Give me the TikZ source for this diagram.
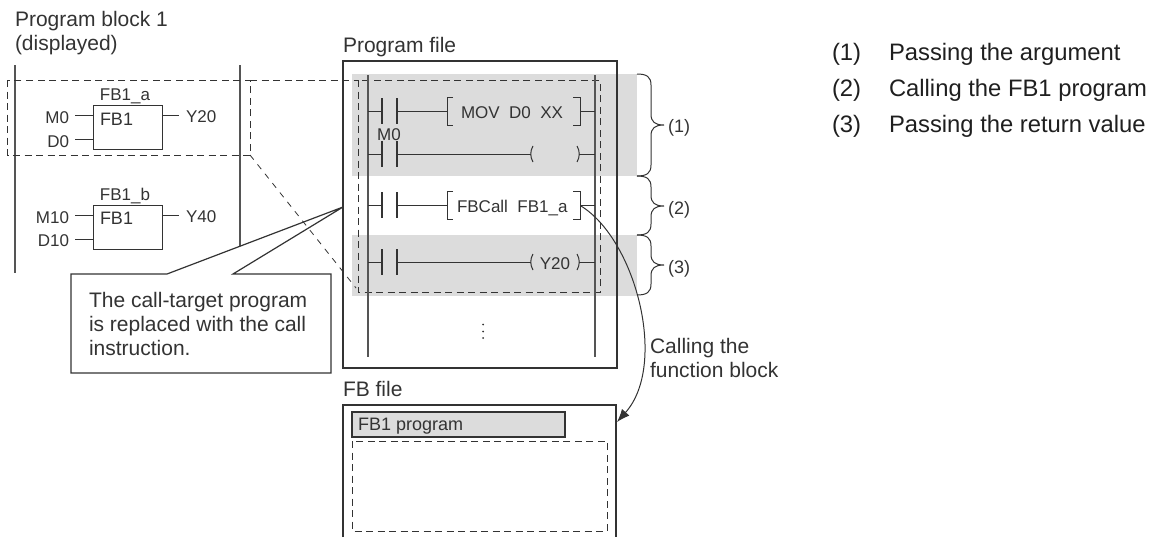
\documentclass[tikz,border=0pt]{standalone}
\usepackage{fontspec}
\setmainfont{Liberation Sans}
\usetikzlibrary{arrows.meta}
\definecolor{ink}{HTML}{333333}
\definecolor{rail}{HTML}{555555}
\definecolor{band}{HTML}{DCDCDC}
\tikzset{
  txt/.style={inner sep=0pt,outer sep=0pt,font=\fontsize{17}{20}\selectfont,text=ink,anchor=base west},
  mid/.style={font=\fontsize{18}{20}\selectfont},
  big/.style={font=\fontsize{21}{24}\selectfont},
  legend/.style={font=\fontsize{23.8}{26}\selectfont,text=black!88},
  txtc/.style={txt,anchor=base},
  txte/.style={txt,anchor=base east},
  wire/.style={draw=ink,line width=1pt},
  railline/.style={draw=rail,line width=1.3pt},
  dashbox/.style={draw=ink,line width=1pt,dash pattern=on 7pt off 4.5pt},
  thin dash/.style={draw=ink,line width=.8pt,dash pattern=on 6pt off 6pt},
  plate/.style={draw=ink,line width=1.2pt},
}
\newcommand{\contact}[2]{%
  \draw[plate] (382,#2-13) -- (382,#2+13);
  \draw[plate] (397,#2-13) -- (397,#2+13);
  \draw[wire] (368,#2) -- (382,#2);
  \draw[wire] (397,#2) -- (#1,#2);
}
\newcommand{\brackets}[1]{%
  \draw[wire] (453,#1-14) -- (447,#1-14) -- (447,#1+14) -- (453,#1+14);
  \draw[wire] (573,#1-14) -- (580,#1-14) -- (580,#1+14) -- (573,#1+14);
  \draw[wire] (580,#1) -- (595,#1);
}
\newcommand{\parens}[1]{%
  \draw[wire] (533,#1-8) .. controls (530,#1-3) and (530,#1+3) .. (533,#1+8);
  \draw[wire] (577,#1-8) .. controls (580,#1-3) and (580,#1+3) .. (577,#1+8);
  \draw[wire] (579,#1) -- (595,#1);
}
\newcommand{\curly}[3]{%
  \draw[wire] (637,#1) .. controls (647,#1) and (651,#1+3) .. (651,#1+11)
    -- (651,#2-11) .. controls (651,#2-3) and (655,#2) .. (664,#2)
    .. controls (655,#2) and (651,#2+3) .. (651,#2+11)
    -- (651,#3-11) .. controls (651,#3-3) and (647,#3) .. (637,#3);
}
\begin{document}
\begin{tikzpicture}[x=1pt,y=-1pt]
\useasboundingbox (0,0) rectangle (1150,538);
% labels
\node[txt,big] (lb1) at (15,27) {Program block 1};
\node[txt,big] (lb2) at (15,50) {(displayed)};
\node[txt,big] (lpf) at (343,52) {Program file};
\node[txt,big] (lfb) at (343,396) {FB file};
% bands
\fill[band] (352,74) rectangle (637,176);
\fill[band] (352,235) rectangle (637,296);
% left rails
\draw[railline] (15,65) -- (15,273);
\draw[railline] (240,65) -- (240,246);
% FB blocks
\node[draw=ink,line width=1pt,minimum width=69pt,minimum height=44pt,inner sep=0pt] (fba) at (127.5,127) {};
\node[draw=ink,line width=1pt,minimum width=69pt,minimum height=44pt,inner sep=0pt] (fbb) at (127.5,227) {};
\node[txtc] (fbal) at (125,100) {FB1\_a};
\node[txtc] (fbbl) at (125,200) {FB1\_b};
\node[txt,mid] (fbat) at (100,125) {FB1};
\node[txt,mid] (fbbt) at (100,224) {FB1};
\node[txte] (m0) at (69,123) {M0};
\node[txte] (d0) at (69,147) {D0};
\node[txte] (m10) at (69,223) {M10};
\node[txte] (d10) at (69,246) {D10};
\node[txt] (y20) at (186,122) {Y20};
\node[txt] (y40) at (186,222) {Y40};
\draw[wire] (75,115) -- (93,115);
\draw[wire] (75,139) -- (93,139);
\draw[wire] (75,215) -- (93,215);
\draw[wire] (75,239) -- (93,239);
\draw[wire] (162,115) -- (179,115);
\draw[wire] (162,215) -- (179,215);
% dashed zoom frame
\draw[dashbox] (7.5,80) rectangle (250,155);
\draw[dashbox] (250,80) -- (358,80);
\draw[dashbox] (358,80) rectangle (600,292);
% program file frame
\node[draw=ink,line width=2.4pt,minimum width=274pt,minimum height=307pt,inner sep=0pt] (pf) at (480,214.5) {};
% rails
\draw[railline] (368,75) -- (368,357);
\draw[railline] (595,75) -- (595,357);
% rungs
\contact{447}{111}
\brackets{111}
\node[txt] (mov) at (461,118) {MOV\ \ D0\ \ XX};
\node[txtc] (m0b) at (389,140) {M0};
\contact{531}{154}
\parens{154}
\contact{447}{205}
\brackets{205}
\node[txt] (fbc) at (457,212) {FBCall\ \ FB1\_a};
\contact{531}{262}
\parens{262}
\node[txtc] (y20b) at (555,269) {Y20};
% dots
\fill[ink] (483,324.5) circle (1pt) (483,331.5) circle (1pt) (483,338) circle (1pt);
% FB file
\coordinate (fl) at (343,537);
\coordinate (fr) at (616,537);
\draw[draw=ink,line width=1.2pt] (fl) -- (343,405) -- (616,405) -- (fr);
\node[draw=ink,fill=band,line width=1.2pt,minimum width=213pt,minimum height=25pt,inner sep=0pt] (fbp) at (458.5,424.5) {};
\node[txt,mid] (fbpt) at (358,430.5) {FB1 program};
\draw[dashbox] (352.5,441) rectangle (607,531);
% arrow
\coordinate (cs) at (581,206);
\coordinate (ce) at (617,422);
\draw[wire,-{Latex[length=13pt,width=10pt]}] (cs) .. controls (636,240) and (668,365) .. (ce);
\node[txt,big] (c1) at (650,353) {Calling the};
\node[txt,big] (c2) at (650,377) {function block};
% callout
\coordinate (tip) at (343,207);
\draw[draw=ink,fill=white,line width=1.2pt] (167,274) -- (tip) -- (233,274) -- (331,274) -- (331,373) -- (71,373) -- (71,274) -- cycle;
\node[txt,big] (t1) at (89,307) {The call-target program};
\node[txt,big] (t2) at (89,331) {is replaced with the call};
\node[txt,big] (t3) at (89,355) {instruction.};
\draw[thin dash] (250,155) -- (356,288);
% braces
\curly{74}{125}{176}
\curly{176}{206}{235}
\curly{235}{265}{295}
\node[txt,mid] (b1) at (668,132) {(1)};
\node[txt,mid] (b2) at (668,214) {(2)};
\node[txt,mid] (b3) at (668,273) {(3)};
% legend
\node[txt,legend] (n1) at (832,60) {(1)};
\node[txt,legend] (n2) at (832,96) {(2)};
\node[txt,legend] (n3) at (832,132) {(3)};
\node[txt,legend] (l1) at (889,60) {Passing the argument};
\node[txt,legend] (l2) at (889,96) {Calling the FB1 program};
\node[txt,legend] (l3) at (889,132) {Passing the return value};
\end{tikzpicture}
\end{document}
